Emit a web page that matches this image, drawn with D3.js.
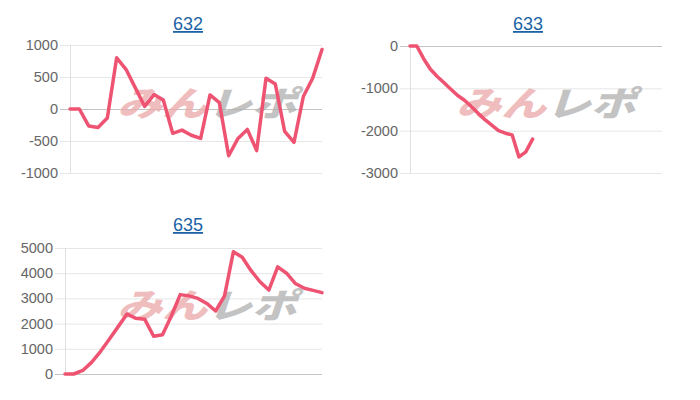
<!DOCTYPE html>
<html>
<head>
<meta charset="utf-8">
<script src="https://cdn.jsdelivr.net/npm/d3@7"></script>
<style>
  body { margin: 0; background: #fff; }
  svg { display: block; font-family: "Liberation Sans", Arial, sans-serif; }
</style>
</head>
<body>
<svg id="chart" width="700" height="400"></svg>
<script>
// machine numbers (titles)
const titles = ['632', '633', '635'];

// per-machine running balance
const series632 = [0, 0, -265, -290, -140, 800, 620, 330, 40, 225, 140, -380, -330, -410,
  -460, 220, 100, -730, -460, -320, -650, 480, 390, -350, -520, 195, 480, 930];
const series633 = [0, 0, -300, -550, -720, -870, -1020, -1170, -1280, -1430, -1590,
  -1740, -1870, -2000, -2060, -2100, -2620, -2500, -2200];
const series635 = [0, 0, 140, 460, 890, 1380, 1880, 2380, 2210, 2170, 1500, 1560, 2300,
  3150, 3100, 3000, 2800, 2500, 3100, 4850, 4630, 4100, 3660, 3330, 4250, 4000, 3590,
  3400, 3320, 3230];

// number of x categories on each chart (633 only has data for part of the range)
const slots632 = 28;
const slots633 = 38;
const slots635 = 30;

// y ticks
const ticks632 = [1000, 500, 0, -500, -1000];
const ticks633 = [0, -1000, -2000, -3000];
const ticks635 = [5000, 4000, 3000, 2000, 1000, 0];

const svg = d3.select('#chart');

function drawPanel(p) {
  const g = svg.append('g');
  const x = d3.scalePoint().domain(d3.range(p.slots)).range([p.left, p.right]);
  const y = d3.scaleLinear().domain(d3.extent(p.ticks)).range([p.bottom, p.top]);

  // grid + tick marks
  g.selectAll('line.grid')
    .data(p.ticks)
    .join('line')
    .attr('x1', p.left - 10)
    .attr('x2', p.right)
    .attr('y1', d => y(d) + 0.5)
    .attr('y2', d => y(d) + 0.5)
    .attr('stroke', d => d === 0 ? '#c4c4c4' : '#e6e6e6')
    .attr('stroke-width', 1);

  g.append('line')
    .attr('x1', p.left + 0.5).attr('x2', p.left + 0.5)
    .attr('y1', p.top).attr('y2', p.bottom)
    .attr('stroke', '#e0e0e0');

  g.selectAll('text.tick')
    .data(p.ticks)
    .join('text')
    .attr('x', p.left - 12)
    .attr('y', d => y(d))
    .attr('dy', '0.35em')
    .attr('text-anchor', 'end')
    .attr('font-size', 14.5)
    .attr('fill', '#666')
    .text(d => d);

  // watermark
  const wm = g.append('text')
    .attr('transform', `translate(${p.wmX},${p.wmY}) scale(1.18,0.9) skewX(-14)`)
    .attr('text-anchor', 'middle')
    .attr('font-family', '"Noto Sans CJK JP", sans-serif')
    .attr('font-weight', 900)
    .attr('font-size', 38)
    .attr('opacity', 0.75);
  wm.append('tspan').attr('fill', '#eaa8a8').text('みん');
  wm.append('tspan').attr('fill', '#b0b0b0').text('レポ');

  // title
  g.append('text')
    .attr('x', p.titleX)
    .attr('y', p.titleY)
    .attr('text-anchor', 'middle')
    .attr('font-size', 18)
    .attr('fill', '#1d63a6')
    .attr('text-decoration', 'underline')
    .text(p.title);

  const line = d3.line()
    .x((d, i) => x(i))
    .y(d => y(d));

  g.append('path')
    .datum(p.values)
    .attr('fill', 'none')
    .attr('stroke', '#ee5472')
    .attr('stroke-width', 3.5)
    .attr('stroke-linejoin', 'round')
    .attr('stroke-linecap', 'round')
    .attr('d', line);
}

drawPanel({ title: titles[0], values: series632, slots: slots632, ticks: ticks632,
  left: 70, right: 322, top: 45, bottom: 173, titleX: 188, titleY: 30, wmX: 207, wmY: 116 });
drawPanel({ title: titles[1], values: series633, slots: slots633, ticks: ticks633,
  left: 410, right: 662, top: 46, bottom: 173, titleX: 528, titleY: 30, wmX: 546, wmY: 116 });
drawPanel({ title: titles[2], values: series635, slots: slots635, ticks: ticks635,
  left: 65, right: 322, top: 248, bottom: 374, titleX: 188, titleY: 231, wmX: 207, wmY: 318 });
</script>
</body>
</html>
